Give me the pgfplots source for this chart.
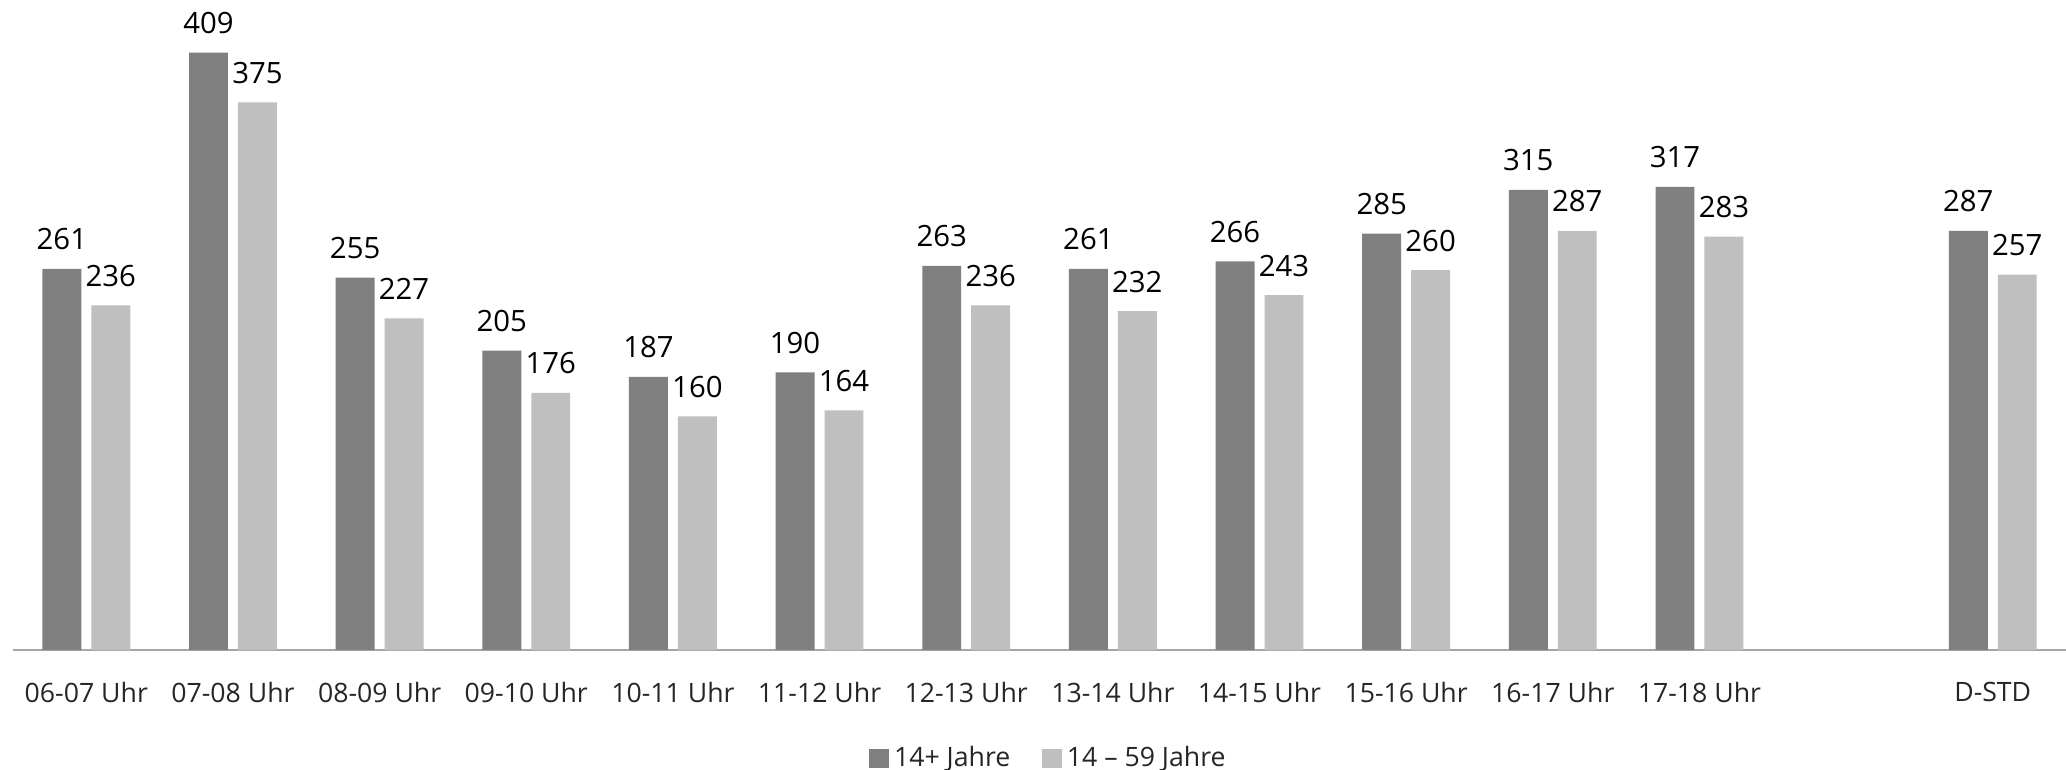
\documentclass[border=0pt]{standalone}
\usepackage{pgfplots}
\pgfplotsset{compat=1.18}
\usepackage{fontspec}
\setmainfont{Open Sans}

\definecolor{darkbar}{HTML}{808080}
\definecolor{lightbar}{HTML}{BFBFBF}
\definecolor{baseline}{HTML}{A6A6A6}

\begin{document}
\begin{tikzpicture}
	\begin{axis}[
		at={(0pt,0pt)},
		anchor=south west,
		scale only axis,
		width=769.9pt,
		height=243.75pt,
		xmin=-0.5, xmax=13.5,
		ymin=0, ymax=445,
		axis y line=none,
		axis x line*=bottom,
		x axis line style={draw=baseline, line width=0.75pt},
		ybar=3.75pt,
		bar width=14.6pt,
		xtick={0,1,2,3,4,5,6,7,8,9,10,11,13},
		xticklabels={06-07 Uhr,07-08 Uhr,08-09 Uhr,09-10 Uhr,10-11 Uhr,11-12 Uhr,12-13 Uhr,13-14 Uhr,14-15 Uhr,15-16 Uhr,16-17 Uhr,17-18 Uhr,D-STD},
		major tick length=0pt,
		xtick style={draw=none},
		tick label style={font=\fontsize{10}{12}\selectfont, text=black!85},
		xticklabel style={yshift=-8.5pt},
		nodes near coords,
		/pgf/number format/assume math mode=true,
		every node near coord/.append style={font=\fontsize{11}{12}\selectfont, text=black, anchor=south, yshift=3.5pt},
		clip=false,
		legend style={draw=none, at={(0.5,-0.167)}, anchor=center, xshift=4pt, legend columns=2,
			font=\fontsize{10}{12}\selectfont, text=black!85,
			/tikz/every even column/.append style={column sep=10pt}},
		legend image code/.code={\fill[#1] (0pt,-3.6pt) rectangle (7.2pt,3.6pt);},
	]
		\addplot[fill=darkbar, draw=none] coordinates {
			(0,261) (1,409) (2,255) (3,205) (4,187) (5,190) (6,263)
			(7,261) (8,266) (9,285) (10,315) (11,317) (13,287)
		};
		\addplot[fill=lightbar, draw=none] coordinates {
			(0,236) (1,375) (2,227) (3,176) (4,160) (5,164) (6,236)
			(7,232) (8,243) (9,260) (10,287) (11,283) (13,257)
		};
		\legend{14+ Jahre, 14 – 59 Jahre}
	\end{axis}
	% frame of the whole picture (2066 x 769 px at 0.375pt per px)
	\pgfresetboundingbox
	\path[use as bounding box] (-4.875pt,-44.625pt) rectangle (769.875pt,243.75pt);
\end{tikzpicture}
\end{document}
